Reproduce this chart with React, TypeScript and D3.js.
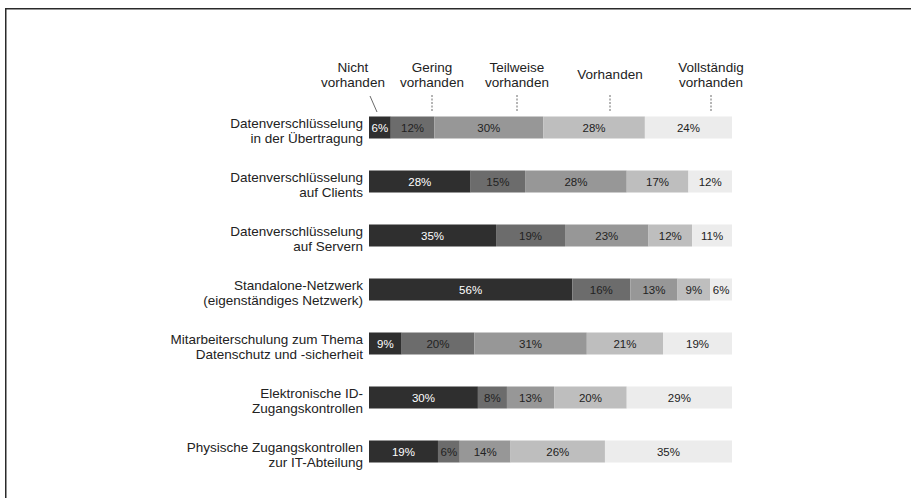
import React from "react";
import * as d3 from "d3";

// ---- data ----
const categories = [
  "Datenverschlüsselung\nin der Übertragung",
  "Datenverschlüsselung\nauf Clients",
  "Datenverschlüsselung\nauf Servern",
  "Standalone-Netzwerk\n(eigenständiges Netzwerk)",
  "Mitarbeiterschulung zum Thema\nDatenschutz und -sicherheit",
  "Elektronische ID-\nZugangskontrollen",
  "Physische Zugangskontrollen\nzur IT-Abteilung",
];
const levels = [
  "Nicht\nvorhanden",
  "Gering\nvorhanden",
  "Teilweise\nvorhanden",
  "Vorhanden",
  "Vollständig\nvorhanden",
];
const nichtVorhanden = [6, 28, 35, 56, 9, 30, 19];
const geringVorhanden = [12, 15, 19, 16, 20, 8, 6];
const teilweiseVorhanden = [30, 28, 23, 13, 31, 13, 14];
const vorhanden = [28, 17, 12, 9, 21, 20, 26];
const vollstaendigVorhanden = [24, 12, 11, 6, 19, 29, 35];

// ---- styles / layout ----
const colors = ["#2f2f2f", "#6c6c6c", "#979797", "#bebebe", "#ececec"];
const textColors = ["#ffffff", "#222222", "#222222", "#222222", "#222222"];
const legendX = [353, 432, 517, 610, 711];
const FONT = "'Liberation Sans', Arial, Helvetica, sans-serif";

export default function App() {
  const W = 911;
  const H = 498;
  const series = [nichtVorhanden, geringVorhanden, teilweiseVorhanden, vorhanden, vollstaendigVorhanden];
  const rows = categories.map((c, i) => {
    const o: any = { cat: c };
    levels.forEach((l, j) => (o[l] = series[j][i]));
    return o;
  });
  const stacked = d3.stack<any>().keys(levels)(rows);
  const x = d3.scaleLinear().domain([0, 100]).range([369, 732]);
  const y = d3.scalePoint<string>().domain(categories).range([127.5, 451.5]);
  const barH = 22;

  return (
    <svg
      width={W}
      height={H}
      style={{ position: "absolute", left: 0, top: 0, background: "#fff" }}
      fontFamily={FONT}
    >
      <rect x={5.75} y={8.75} width={1200} height={1200} fill="#fff" stroke="#2a2a2a" strokeWidth={1.5} />

      {/* legend */}
      {levels.map((l, j) => {
        const lines = l.split("\n");
        const cx = legendX[j];
        return (
          <g key={l}>
            {lines.length === 2 ? (
              <text textAnchor="middle" fontSize={13.5} fill="#222">
                <tspan x={cx} y={72}>{lines[0]}</tspan>
                <tspan x={cx} y={87}>{lines[1]}</tspan>
              </text>
            ) : (
              <text x={cx} y={79} textAnchor="middle" fontSize={13.5} fill="#222">
                {lines[0]}
              </text>
            )}
          </g>
        );
      })}
      {/* leaders */}
      <line x1={370} y1={96} x2={377} y2={112} stroke="#444" strokeWidth={0.8} />
      {legendX.slice(1).map((lx, k) => (
        <line key={k} x1={lx} x2={lx} y1={95} y2={112} stroke="#444" strokeWidth={0.8} strokeDasharray="2,1.5" />
      ))}

      {/* category labels */}
      {categories.map((c) => {
        const lines = c.split("\n");
        const cy = y(c)!;
        return (
          <text key={c} textAnchor="end" fontSize={13.5} fill="#222">
            <tspan x={363} y={cy}>{lines[0]}</tspan>
            <tspan x={363} y={cy + 15.5}>{lines[1]}</tspan>
          </text>
        );
      })}

      {/* bars */}
      {stacked.map((s, j) => (
        <g key={s.key}>
          {s.map((d: any, i: number) => {
            const cy = y(categories[i])!;
            const x0 = x(d[0]);
            const x1 = x(d[1]);
            return (
              <g key={i}>
                <rect x={x0} y={cy - barH / 2} width={x1 - x0} height={barH} fill={colors[j]} />
                <text
                  x={(x0 + x1) / 2}
                  y={cy + 4.3}
                  textAnchor="middle"
                  fontSize={11.5}
                  fill={textColors[j]}
                >
                  {`${series[j][i]}%`}
                </text>
              </g>
            );
          })}
        </g>
      ))}
    </svg>
  );
}
